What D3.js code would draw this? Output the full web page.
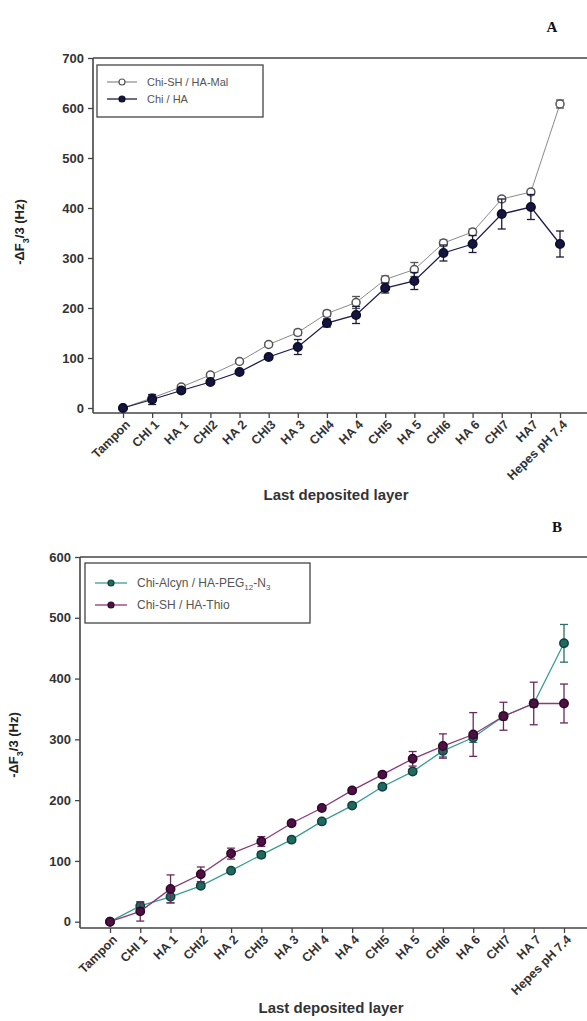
<!DOCTYPE html>
<html><head><meta charset="utf-8">
<script src="https://cdn.jsdelivr.net/npm/d3@7"></script>
<style>
body{margin:0;background:#fff;}
svg{display:block;font-family:Arial,"Liberation Sans",sans-serif;}
</style></head>
<body>
<svg id="chart" width="587" height="1021"></svg>
<script>
// ---------- DATA ----------
const catsA = ["Tampon","CHI 1","HA 1","CHI2","HA 2","CHI3","HA 3","CHI4","HA 4","CHI5","HA 5","CHI6","HA 6","CHI7","HA7","Hepes pH 7.4"];
const chiShHaMal    = [0,20,42,66,93,127,151,189,211,257,277,330,352,418,432,608];
const chiShHaMalErr = [3,5,4,4,4,4,6,6,12,7,14,6,6,5,5,8];
const chiHa         = [0,17,35,52,72,102,122,170,186,240,254,310,328,388,402,328];
const chiHaErr      = [3,10,4,4,4,4,15,8,17,10,17,16,17,30,25,26];
const ticksA = [0,100,200,300,400,500,600,700];

const catsB = ["Tampon","CHI 1","HA 1","CHI2","HA 2","CHI3","HA 3","CHI 4","HA 4","CHI5","HA 5","CHI6","HA 6","CHI7","HA 7","Hepes pH 7.4"];
const chiAlcyn    = [0,26,41,59,84,110,135,165,191,222,247,281,303,338,359,458];
const chiAlcynErr = [2,5,10,4,3,5,4,4,3,4,4,10,8,6,6,31];
const chiShThio    = [0,17,54,78,112,132,162,187,216,242,268,289,308,338,359,359];
const chiShThioErr = [2,16,23,12,9,8,4,4,4,4,12,20,36,23,35,32];
const ticksB = [0,100,200,300,400,500,600];

const svg = d3.select("#chart");

function drawPanel(p){
  const g = svg.append("g");
  const x = d3.scalePoint().domain(p.cats).range([p.x0, p.x1]);
  const y = d3.scaleLinear().domain([0, p.ymax]).range([p.yZero, p.yTop]);

  // frame lines
  g.append("line").attr("x1",p.axisX).attr("x2",587).attr("y1",p.yTop).attr("y2",p.yTop)
    .attr("stroke","#444").attr("stroke-width",1.6);
  g.append("line").attr("x1",p.axisX).attr("x2",587).attr("y1",p.axisY).attr("y2",p.axisY)
    .attr("stroke","#444").attr("stroke-width",1.6);
  g.append("line").attr("x1",p.axisX).attr("x2",p.axisX).attr("y1",p.yTop).attr("y2",p.axisY)
    .attr("stroke","#444").attr("stroke-width",1.6);

  // y axis
  const ya = g.append("g").attr("transform",`translate(${p.axisX},0)`)
    .call(d3.axisLeft(y).tickValues(p.ticks).tickSize(5).tickPadding(4));
  ya.select(".domain").remove();
  ya.selectAll(".tick line").attr("stroke","#444").attr("stroke-width",1.3);
  ya.selectAll(".tick text").attr("fill","#333").style("font-size","13px").style("font-weight","bold");

  // x axis
  const xa = g.append("g").attr("transform",`translate(0,${p.axisY})`)
    .call(d3.axisBottom(x).tickSize(5));
  xa.select(".domain").remove();
  xa.selectAll(".tick line").attr("stroke","#444").attr("stroke-width",1.3);
  xa.selectAll(".tick text").attr("fill","#333").style("font-size","12.5px").style("font-weight","bold")
    .attr("text-anchor","end").attr("dy",null).attr("y",null)
    .attr("transform","translate(5,10) rotate(-45)").attr("dominant-baseline","middle");

  // series
  p.series.forEach(s=>{
    const pts = p.cats.map((c,i)=>({c, v:s.values[i], e:s.errs[i]}));
    g.append("path").datum(pts)
      .attr("d", d3.line().x(d=>x(d.c)).y(d=>y(d.v)))
      .attr("fill","none").attr("stroke",s.line).attr("stroke-width",s.lw);
    const eb = g.append("g").attr("stroke",s.err).attr("stroke-width",1.3);
    pts.forEach(d=>{
      const cx = x(d.c), t = y(d.v+d.e), b = y(d.v-d.e);
      eb.append("line").attr("x1",cx).attr("x2",cx).attr("y1",t).attr("y2",b);
      eb.append("line").attr("x1",cx-4).attr("x2",cx+4).attr("y1",t).attr("y2",t);
      eb.append("line").attr("x1",cx-4).attr("x2",cx+4).attr("y1",b).attr("y2",b);
    });
    g.append("g").selectAll("circle").data(pts).join("circle")
      .attr("cx",d=>x(d.c)).attr("cy",d=>y(d.v)).attr("r",s.r)
      .attr("fill",s.fill).attr("stroke",s.stroke).attr("stroke-width",1.5);
  });

  // legend
  const lg = g.append("g");
  lg.append("rect").attr("x",p.leg.x).attr("y",p.leg.y).attr("width",p.leg.w).attr("height",p.leg.h)
    .attr("fill","#fff").attr("stroke","#444").attr("stroke-width",1.3);
  p.series.forEach((s,i)=>{
    const ly = p.leg.y + p.leg.first + i*p.leg.step;
    lg.append("line").attr("x1",p.leg.x+10).attr("x2",p.leg.x+10+p.leg.lineW).attr("y1",ly).attr("y2",ly)
      .attr("stroke",s.line).attr("stroke-width",Math.max(1.2,s.lw));
    lg.append("circle").attr("cx",p.leg.x+10+p.leg.lineW/2).attr("cy",ly).attr("r",3)
      .attr("fill",s.fill).attr("stroke",s.stroke).attr("stroke-width",1.2);
    const t = lg.append("text").attr("x",p.leg.x+20+p.leg.lineW).attr("y",ly)
      .attr("dominant-baseline","central").attr("fill","#555").style("font-size",p.leg.fs+"px");
    s.label.forEach(part=>{
      const ts = t.append("tspan").text(part.t);
      if(part.sub){ ts.attr("baseline-shift","sub").style("font-size",(p.leg.fs-4)+"px"); }
    });
  });

  // y title
  const yt = g.append("text").attr("transform",`translate(${p.ytX},${p.ytY}) rotate(-90)`)
    .attr("text-anchor","middle").attr("fill","#222").style("font-size","13px").style("font-weight","bold");
  yt.append("tspan").text("-ΔF");
  yt.append("tspan").text("3").attr("baseline-shift","sub").style("font-size","9px");
  yt.append("tspan").text("/3 (Hz)");

  // x title
  g.append("text").attr("x",p.xtX).attr("y",p.xtY).attr("text-anchor","middle")
    .attr("fill","#333").style("font-size","15px").style("font-weight","bold").text("Last deposited layer");

  // panel letter
  g.append("text").attr("x",p.letX).attr("y",p.letY).attr("text-anchor","middle")
    .attr("fill","#111").style("font-family","'Liberation Serif','DejaVu Serif',serif")
    .style("font-size","15px").style("font-weight","bold").text(p.letter);
}

drawPanel({
  cats: catsA, ymax:700, ticks: ticksA,
  x0:123, x1:560, yZero:408, yTop:58, axisX:93, axisY:413,
  series:[
    {values:chiShHaMal, errs:chiShHaMalErr, line:"#8a8a8a", lw:1, err:"#555", fill:"#fff", stroke:"#555", r:4,
     label:[{t:"Chi-SH / HA-Mal"}]},
    {values:chiHa, errs:chiHaErr, line:"#1c1c4c", lw:1.3, err:"#1c1c3c", fill:"#14143e", stroke:"#0c0c28", r:4.3,
     label:[{t:"Chi / HA"}]}
  ],
  leg:{x:97,y:65,w:166,h:52,first:17,step:17,lineW:30,fs:11},
  ytX:24, ytY:232, xtX:336, xtY:500, letX:552, letY:32, letter:"A"
});

drawPanel({
  cats: catsB, ymax:600, ticks: ticksB,
  x0:110, x1:564, yZero:921.7, yTop:557, axisX:80, axisY:928,
  series:[
    {values:chiAlcyn, errs:chiAlcynErr, line:"#3a9e96", lw:1.3, err:"#2c6e68", fill:"#1e6a60", stroke:"#123f3a", r:4.2,
     label:[{t:"Chi-Alcyn / HA-PEG"},{t:"12",sub:true},{t:"-N"},{t:"3",sub:true}]},
    {values:chiShThio, errs:chiShThioErr, line:"#8a3a7c", lw:1.3, err:"#6a2a5e", fill:"#4e1044", stroke:"#2e0828", r:4.2,
     label:[{t:"Chi-SH / HA-Thio"}]}
  ],
  leg:{x:85,y:563,w:225,h:60,first:20,step:22,lineW:32,fs:12},
  ytX:18, ytY:745, xtX:331, xtY:1013, letX:557, letY:532, letter:"B"
});
</script>
</body></html>
